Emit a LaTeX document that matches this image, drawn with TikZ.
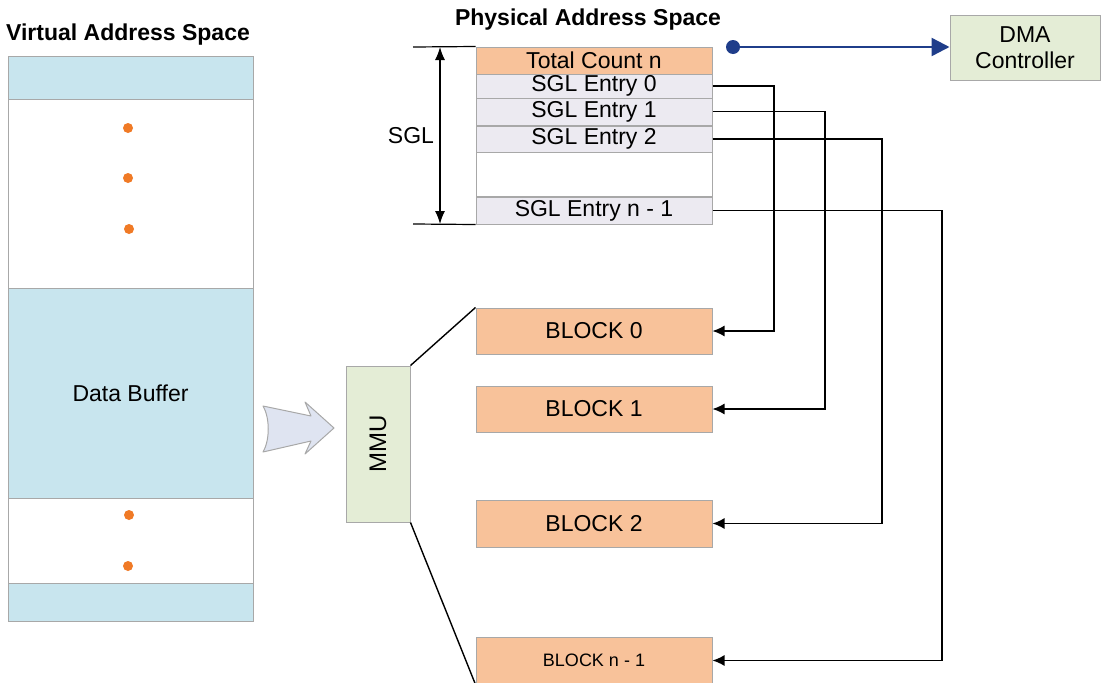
\documentclass[tikz,border=0pt]{standalone}
\usepackage{fontspec}
\setmainfont{Liberation Sans}
\usetikzlibrary{arrows.meta}
\definecolor{vblue}{HTML}{C8E5EE}
\definecolor{blockor}{HTML}{F8C29A}
\definecolor{entryl}{HTML}{ECEAF1}
\definecolor{mmugr}{HTML}{E4EDD6}
\definecolor{dotor}{HTML}{F07A26}
\definecolor{navy}{HTML}{1F3D8A}
\definecolor{edgegr}{HTML}{A8A8A8}
\definecolor{hollow}{HTML}{DFE4F1}
\tikzset{
  cell/.style={draw=edgegr, line width=1pt, inner sep=0pt, minimum width=236pt,
               font=\fontsize{23}{27}\selectfont},
  vcell/.style={draw=edgegr, line width=1pt, inner sep=0pt, minimum width=245pt,
               font=\fontsize{23}{27}\selectfont},
  title/.style={font=\fontsize{23}{27}\selectfont\bfseries},
  conn/.style={line width=1.4pt, black},
  arr/.style={conn, -{Latex[length=12pt,width=11pt]}},
  vdot/.style={circle, fill=dotor, inner sep=0pt, minimum size=10pt},
}
\begin{document}
\begin{tikzpicture}[x=1pt, y=-1pt]
\useasboundingbox (0,0) rectangle (1109,683);

% titles
\node[title] (vtitle) at (128,35) {Virtual Address Space};
\node[title] (ptitle) at (588,20) {Physical Address Space};

% virtual address space column
\node[vcell, fill=vblue, minimum height=43pt] (v0) at (130.5,77.5) {};
\node[vcell, fill=white, minimum height=189pt] (v1) at (130.5,193.5) {};
\node[vcell, fill=vblue, minimum height=210pt] (vbuf) at (130.5,393) {Data Buffer};
\node[vcell, fill=white, minimum height=85pt] (v3) at (130.5,540.5) {};
\node[vcell, fill=vblue, minimum height=38pt] (v4) at (130.5,602) {};
\node[vdot] (d1) at (128,128) {};
\node[vdot] (d2) at (128,178) {};
\node[vdot] (d3) at (129,229) {};
\node[vdot] (d4) at (129,515) {};
\node[vdot] (d5) at (128,566) {};

% hollow arrow towards the MMU
\draw[draw=edgegr, line width=1pt, fill=hollow, line join=round]
  (263,406) -- (311,416) -- (305,402) -- (334,428) -- (305,454)
  -- (311,441) -- (263,452) .. controls (270,440) and (270,418) .. cycle;

% MMU
\node[draw=edgegr, line width=1pt, fill=mmugr, inner sep=0pt,
      minimum width=64pt, minimum height=156pt] (mmu) at (378,444) {};
\node[rotate=90, font=\fontsize{24}{28}\selectfont] (mmutext) at (mmu.center) {MMU};

% scatter-gather list
\node[cell, fill=blockor, minimum height=27pt] (tc) at (594,60.5) {Total Count n};
\node[cell, fill=entryl, minimum height=24pt] (e0) at (594,86) {SGL Entry 0};
\node[cell, fill=entryl, minimum height=27pt] (e1) at (594,111.5) {SGL Entry 1};
\node[cell, fill=entryl, minimum height=26pt] (e2) at (594,139) {SGL Entry 2};
\node[cell, fill=white, minimum height=44pt] (eblank) at (594,174) {};
\node[cell, fill=entryl, minimum height=27pt] (en) at (594,210.5) {SGL Entry n - 1};

% SGL extent marker
\coordinate (st) at (413,47);
\coordinate (sb) at (413,224);
\coordinate (sx) at (440,0);
\draw[line width=1.2pt] (st) -- (tc.north west);
\draw[line width=1.2pt] (sb) -- (en.south west);
\draw[line width=1.2pt, {Latex[length=13pt,width=10pt]}-{Latex[length=13pt,width=10pt]}]
  (sx |- st) -- (sx |- sb);
\node[font=\fontsize{23}{27}\selectfont] (sgl) at (411,136) {SGL};

% physical blocks
\node[cell, fill=blockor, minimum height=46pt] (b0) at (594,331) {BLOCK 0};
\node[cell, fill=blockor, minimum height=46pt] (b1) at (594,409) {BLOCK 1};
\node[cell, fill=blockor, minimum height=47pt] (b2) at (594,523.5) {BLOCK 2};
\node[cell, fill=blockor, minimum height=47pt, font=\fontsize{18}{22}\selectfont]
  (bn) at (594,660.5) {BLOCK n - 1};

% MMU mapping lines
\draw[conn] (mmu.north east) -- (b0.north west);
\draw[conn] (mmu.south east) -- (bn.south west);

% SGL entries pointing to blocks
\coordinate (c0) at (774,0);
\coordinate (c1) at (825,0);
\coordinate (c2) at (882,0);
\coordinate (c3) at (942,0);
\draw[arr] (e0.east) -| (c0 |- b0.east) -- (b0.east);
\draw[arr] (e1.east) -| (c1 |- b1.east) -- (b1.east);
\draw[arr] (e2.east) -| (c2 |- b2.east) -- (b2.east);
\draw[arr] (en.east) -| (c3 |- bn.east) -- (bn.east);

% DMA controller
\node[draw=edgegr, line width=1pt, fill=mmugr, inner sep=0pt,
      minimum width=150pt, minimum height=65pt, align=center,
      font=\fontsize{23}{26}\selectfont] (dma) at (1025,47.5) {DMA\\Controller};
\node[circle, fill=navy, inner sep=0pt, minimum size=14pt] (dmadot) at (733,47) {};
\draw[navy, line width=2.4pt, -{Triangle[length=18pt,width=18pt]}]
  (dmadot.center) -- (dma.west |- dmadot.center);
\end{tikzpicture}
\end{document}
